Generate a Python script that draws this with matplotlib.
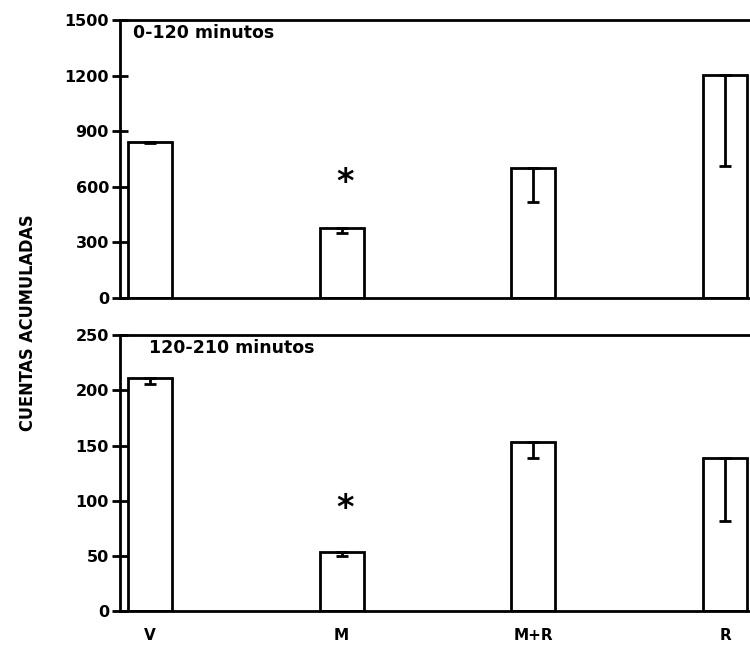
import matplotlib
matplotlib.use('Agg')
import matplotlib.pyplot as plt

groups = ['V', 'M', 'M+R', 'R']

# 0-120 minutes
counts_early = [842, 378, 702, 1203]
sem_early = [8, 30, 185, 490]

# 120-210 minutes
counts_late = [211, 54, 153, 139]
sem_late = [5, 4, 14, 57]

star_early = 625
star_late = 93

plt.rcParams['font.family'] = 'DejaVu Sans'
plt.rcParams['font.weight'] = 'bold'

fig = plt.figure(figsize=(7.5, 6.46), dpi=100)
ax1 = fig.add_axes([0.16, 0.539, 0.84, 0.430])
ax2 = fig.add_axes([0.16, 0.054, 0.84, 0.427])

x = list(range(len(groups)))


def draw_panel(ax, counts, sem, ymax, ticks, label, label_x, star_y):
    ax.bar(x, counts, width=0.23, color='white', edgecolor='black', linewidth=2)
    # error bars only drawn downward, inside the bars
    ax.errorbar(x, counts, yerr=[sem, [0] * len(sem)], fmt='none',
                ecolor='black', elinewidth=2, capsize=4, capthick=2)
    ax.text(1.02, star_y, '*', ha='center', va='center', fontsize=24)
    ax.set_xlim(-0.156, 3.13)
    ax.set_ylim(0, ymax)
    ax.set_yticks(ticks)
    ax.tick_params(axis='y', direction='inout', length=12, width=2,
                   labelsize=11.5, pad=2)
    ax.tick_params(axis='x', length=0)
    for side in ['left', 'bottom', 'top']:
        ax.spines[side].set_linewidth(2)
    ax.spines['right'].set_visible(False)
    ax.text(label_x, 0.985, label, transform=ax.transAxes, ha='left', va='top',
            fontsize=12.5)


draw_panel(ax1, counts_early, sem_early, 1500, [0, 300, 600, 900, 1200, 1500],
           '0-120 minutos', 0.02, star_early)
draw_panel(ax2, counts_late, sem_late, 250, [0, 50, 100, 150, 200, 250],
           '120-210 minutos', 0.046, star_late)

ax1.set_xticks([])
ax2.set_xticks(x)
ax2.set_xticklabels(groups, fontsize=11)
ax2.tick_params(axis='x', pad=12)

fig.text(0.038, 0.50, 'CUENTAS ACUMULADAS', rotation=90, ha='center', va='center',
         fontsize=13, fontweight='bold', fontstretch='condensed')

fig.savefig('out.png', dpi=100)
